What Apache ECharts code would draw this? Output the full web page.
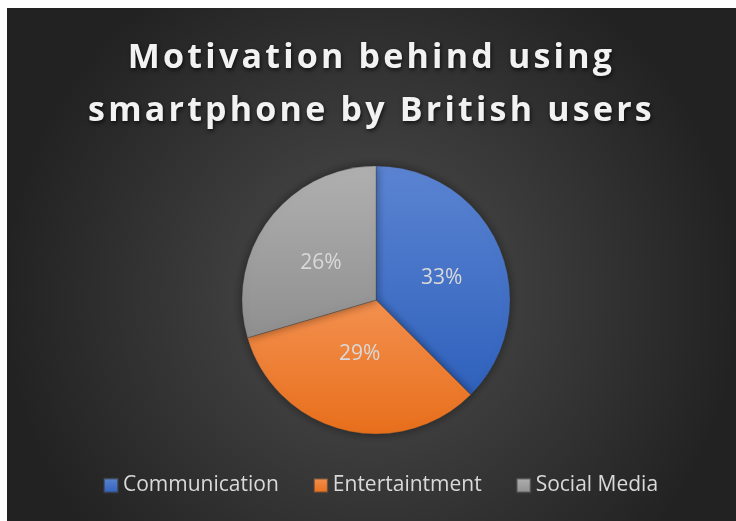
<!DOCTYPE html>
<html>
<head>
<meta charset="utf-8">
<script src="https://cdn.jsdelivr.net/npm/echarts@6/dist/echarts.min.js"></script>
<style>
  html, body { margin: 0; padding: 0; background: #ffffff; width: 736px; height: 521px; overflow: hidden; }
  #chart { position: absolute; left: 7px; top: 8px; width: 729px; height: 513px; }
</style>
</head>
<body>
<div id="chart"></div>
<script>
// Survey shares of smartphone motivations (percent)
const categories = ['Communication', 'Entertaintment', 'Social Media'];
const shares = [33, 29, 26];
const titleText = 'Motivation behind using\nsmartphone by British users';

// top / bottom shades for each slice's vertical gradient
const sliceShades = [
  ['#5b84d2', '#2f61bc'],
  ['#f3904f', '#e86f1c'],
  ['#b0b0b0', '#8f8f8f']
];

const TITLE_LAYER = 1;
const TITLE_TRACKING = '3.2px';

const chart = echarts.init(document.getElementById('chart'), null, { renderer: 'canvas' });

const pieData = categories.map((name, i) => ({
  name: name,
  value: shares[i],
  itemStyle: {
    color: new echarts.graphic.LinearGradient(0, 0, 0, 1, [
      { offset: 0, color: sliceShades[i][0] },
      { offset: 1, color: sliceShades[i][1] }
    ])
  },
  label: i === 1 ? { offset: [1, -14] } : {}
}));

chart.setOption({
  backgroundColor: new echarts.graphic.RadialGradient(0.5, 0.56, 0.72, [
    { offset: 0, color: '#4e4e4e' },
    { offset: 1, color: '#222222' }
  ]),
  animation: false,
  title: {
    text: titleText,
    left: 'center',
    top: 19,
    zlevel: TITLE_LAYER,
    textStyle: {
      color: '#f2f2f2',
      fontFamily: 'Open Sans',
      fontWeight: 'bold',
      fontSize: 34,
      lineHeight: 53,
      textShadowColor: 'rgba(0,0,0,0.7)',
      textShadowBlur: 4,
      textShadowOffsetX: 1,
      textShadowOffsetY: 2
    }
  },
  legend: {
    data: categories,
    bottom: 20,
    left: 91,
    icon: 'rect',
    itemWidth: 14,
    itemHeight: 14,
    itemGap: 34,
    textStyle: {
      color: '#d9d9d9',
      fontFamily: 'Open Sans',
      fontSize: 21
    }
  },
  series: [{
    type: 'pie',
    center: [369, 292],
    radius: [0, 134],
    startAngle: 90,
    clockwise: true,
    data: pieData,
    itemStyle: {
      borderColor: 'rgba(60,60,60,0.6)',
      borderWidth: 0.5,
      shadowColor: 'rgba(0,0,0,0.45)',
      shadowBlur: 10
    },
    label: {
      show: true,
      position: 'inside',
      formatter: '{c}%',
      color: '#d9d9d9',
      fontFamily: 'Open Sans',
      fontSize: 21,
      offset: [1, 5]
    },
    labelLine: { show: false },
    emphasis: { disabled: true }
  }]
});

// widen the title's character tracking on its own canvas layer
function applyTitleTracking() {
  const painter = chart.getZr().painter;
  const layer = painter.getLayer && painter.getLayer(TITLE_LAYER);
  if (layer && layer.ctx && 'letterSpacing' in layer.ctx) {
    layer.ctx.letterSpacing = TITLE_TRACKING;
    painter.refresh(true);
  }
}
chart.getZr().flush();
applyTitleTracking();
chart.on('finished', function once() {
  chart.off('finished', once);
  applyTitleTracking();
});
</script>
</body>
</html>
